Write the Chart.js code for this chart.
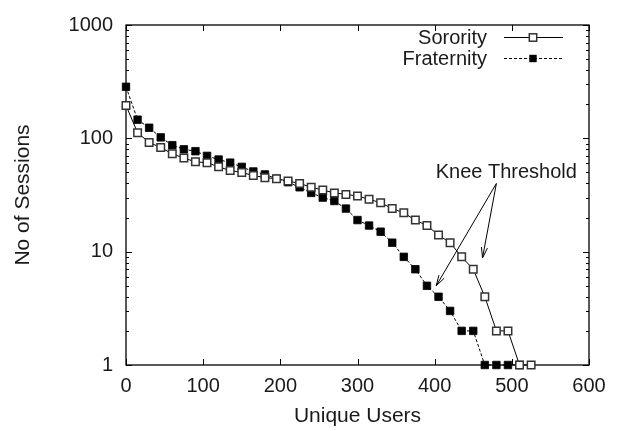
<!DOCTYPE html>
<html><head><meta charset="utf-8">
<script src="https://cdn.jsdelivr.net/npm/chart.js@4.4.1/dist/chart.umd.min.js"></script>
<style>html,body{margin:0;padding:0;background:#fff;}canvas{display:block;}</style>
</head><body>
<canvas id="c" width="620" height="431"></canvas>
<script>
// ---- data ----
const sororityUsers = [0,15,30,45,60,75,90,105,120,135,150,165,180,195,210,225,240,255,270,285,300,315,330,345,360,375,390,405,420,435,450,465,480,495,510,525];
const sororitySessions = [195,112,92,83,73,67,62,61,56,52,50,47,45,44,42,40,37,35,33,32,31,29,27,24,22,19,17,14,12,9,7,4,2,2,1,1];
const fraternityUsers = [0,15,30,45,60,75,90,105,120,135,150,165,180,195,210,225,240,255,270,285,300,315,330,345,360,375,390,405,420,435,450,465,480,495,510];
const fraternitySessions = [285,146,124,102,87,80,77,70,65,61,56,51,48,44,41,37,33,30,28,24,19,17,15,12,9,7,5,4,3,2,2,1,1,1,1];
const xTickValues = [0,100,200,300,400,500,600];
const yTickValues = [1,10,100,1000];
const seriesNames = ['Sorority','Fraternity'];
const xTitle = 'Unique Users';
const yTitle = 'No of Sessions';
const noteText = 'Knee Threshold';

// annotation placement (data coordinates)
const note = { at:[400,50], from:[480,40], to:[[402,5],[462,8.8]] };

const FONT = "'Liberation Sans', Arial, Helvetica, sans-serif";
const TXT = '#1a1a1a';

function toPts(xs, ys){ return xs.map((v,i)=>({x:v, y:ys[i]})); }

function drawSquare(ctx, cx, cy, half, filled){
  ctx.save();
  if(filled){ ctx.fillStyle='#000'; ctx.fillRect(cx-half, cy-half, half*2, half*2); }
  else { ctx.fillStyle='#fff'; ctx.fillRect(cx-half, cy-half, half*2, half*2);
         ctx.strokeStyle='#333'; ctx.lineWidth=1.5; ctx.strokeRect(cx-half, cy-half, half*2, half*2); }
  ctx.restore();
}

const gnuplotLook = {
  id:'gnuplotLook',
  beforeDatasetsDraw(chart){
    const {ctx, chartArea:a, scales:{x,y}} = chart;
    ctx.save();
    ctx.strokeStyle='#000';
    ctx.lineWidth=1.3;
    ctx.strokeRect(a.left, a.top, a.right-a.left, a.bottom-a.top);
    ctx.lineWidth=1;
    ctx.beginPath();
    xTickValues.forEach(v=>{
      const px=Math.round(x.getPixelForValue(v))+0.5;
      ctx.moveTo(px,a.bottom); ctx.lineTo(px,a.bottom-6);
      ctx.moveTo(px,a.top); ctx.lineTo(px,a.top+6);
    });
    for(let d=1; d<1000; d*=10){
      for(let m=1; m<=10; m++){
        const v=d*m; const len=(m===1||m===10)?6:3;
        const py=Math.round(y.getPixelForValue(v))+0.5;
        ctx.moveTo(a.left,py); ctx.lineTo(a.left+len,py);
        ctx.moveTo(a.right,py); ctx.lineTo(a.right-len,py);
      }
    }
    ctx.stroke();
    ctx.restore();
  },
  afterDatasetsDraw(chart){
    const {ctx, scales:{x,y}} = chart;
    const ds = chart.data.datasets;
    ctx.save();
    // legend
    ctx.font = '20px '+FONT;
    ctx.textAlign='right'; ctx.textBaseline='middle';
    const rows=[37,58];
    ds.forEach((d,i)=>{
      const ly=rows[i];
      ctx.fillStyle=TXT;
      ctx.fillText(d.label, 487, ly+1);
      ctx.beginPath();
      ctx.strokeStyle='#000'; ctx.lineWidth=1;
      ctx.setLineDash(d.borderDash||[]);
      ctx.moveTo(504,ly+0.5); ctx.lineTo(563,ly+0.5); ctx.stroke();
      ctx.setLineDash([]);
      drawSquare(ctx, 533, ly+0.5, 3.7, i===1);
    });
    // annotation
    ctx.fillStyle=TXT; ctx.textAlign='left'; ctx.textBaseline='middle';
    ctx.fillText(noteText, x.getPixelForValue(note.at[0])+1, y.getPixelForValue(note.at[1]));
    const fx=x.getPixelForValue(note.from[0]), fy=y.getPixelForValue(note.from[1]);
    ctx.strokeStyle='#000'; ctx.lineWidth=1;
    note.to.forEach(t=>{
      const tx=x.getPixelForValue(t[0]), ty=y.getPixelForValue(t[1]);
      ctx.beginPath(); ctx.moveTo(fx,fy); ctx.lineTo(tx,ty); ctx.stroke();
      const ang=Math.atan2(ty-fy, tx-fx), L=11, sp=0.28;
      ctx.beginPath();
      ctx.moveTo(tx-L*Math.cos(ang-sp), ty-L*Math.sin(ang-sp));
      ctx.lineTo(tx,ty);
      ctx.lineTo(tx-L*Math.cos(ang+sp), ty-L*Math.sin(ang+sp));
      ctx.stroke();
    });
    ctx.restore();
  }
};

new Chart(document.getElementById('c'), {
  type:'line',
  data:{ datasets:[
    { label:seriesNames[0], data:toPts(sororityUsers, sororitySessions),
      borderColor:'#000', borderWidth:1, fill:false, tension:0, clip:false,
      pointStyle:'rect', pointRadius:5.3, pointBorderWidth:1.5,
      pointBorderColor:'#333', pointBackgroundColor:'#fff', pointHoverRadius:5.3 },
    { label:seriesNames[1], data:toPts(fraternityUsers, fraternitySessions),
      borderColor:'#000', borderWidth:1, borderDash:[3,2], fill:false, tension:0, clip:false,
      pointStyle:'rect', pointRadius:5.3, pointBorderWidth:0.8,
      pointBorderColor:'#000', pointBackgroundColor:'#000', pointHoverRadius:5.3 }
  ]},
  options:{
    responsive:false, animation:false, devicePixelRatio:1,
    layout:{ padding:{ top:21, right:31, left:0, bottom:0 } },
    plugins:{ legend:{display:false}, tooltip:{enabled:false} },
    events:[],
    scales:{
      x:{ type:'linear', min:0, max:600,
        grid:{display:false, drawTicks:false}, border:{display:false},
        afterBuildTicks(s){ s.ticks = xTickValues.map(v=>({value:v})); },
        afterFit(s){ s.height = 66; },
        ticks:{ color:TXT, font:{family:FONT, size:20}, padding:9, maxRotation:0, autoSkip:false,
                callback:v=>String(v) },
        title:{ display:true, text:xTitle, color:TXT, font:{family:FONT, size:21}, padding:{top:0,bottom:2} }
      },
      y:{ type:'logarithmic', min:1, max:1000,
        grid:{display:false, drawTicks:false}, border:{display:false},
        afterBuildTicks(s){ s.ticks = yTickValues.map(v=>({value:v, major:true})); },
        afterFit(s){ s.width = 126; },
        ticks:{ color:TXT, font:{family:FONT, size:20}, padding:13, autoSkip:false,
                callback:v=>String(v) },
        title:{ display:true, text:yTitle, color:TXT, font:{family:FONT, size:21}, padding:{top:10.5,bottom:0} }
      }
    }
  },
  plugins:[gnuplotLook]
});
</script>
</body></html>
